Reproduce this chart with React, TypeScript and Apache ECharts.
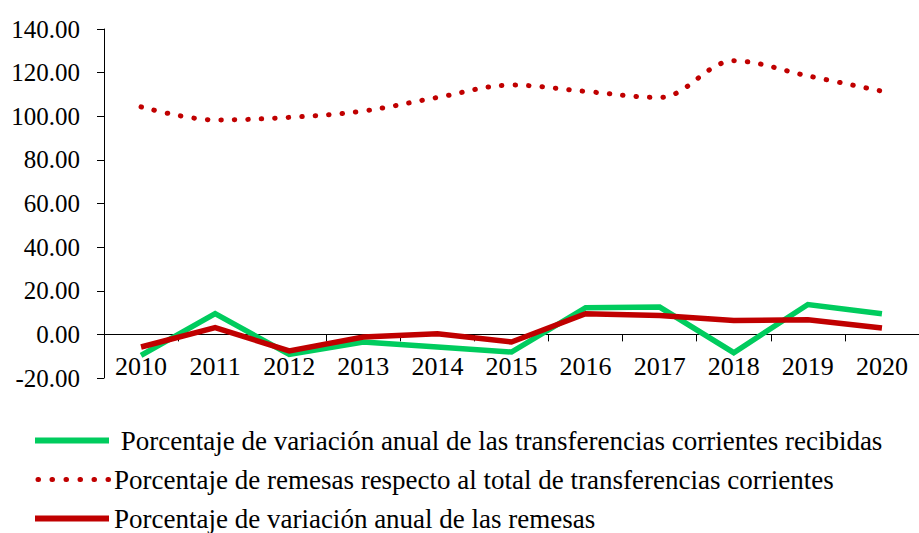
import React, { useEffect, useRef } from "react";
import * as echarts from "echarts";

const years = ["2010", "2011", "2012", "2013", "2014", "2015", "2016", "2017", "2018", "2019", "2020"];
const seriesNames = [
  "Porcentaje de variación anual de las transferencias corrientes recibidas",
  "Porcentaje de remesas respecto al total de transferencias corrientes",
  "Porcentaje de variación anual de las remesas",
];
const transferenciasVar = [-9.6, 9.5, -9.2, -3.5, -5.8, -8.1, 12.2, 12.5, -8.4, 13.7, 9.5];
const remesasPct = [104.3, 98.3, 99.5, 102.4, 108.6, 114.3, 111.4, 108.6, 125.4, 118.5, 111.5];
const remesasVar = [-5.8, 3.1, -7.6, -1.2, 0.3, -3.5, 9.5, 8.7, 6.4, 6.7, 2.9];
const yMin = -20;
const yMax = 140;
const yStep = 20;

const FONT = "Liberation Serif";
const GREEN = "#00CC5E";
const RED = "#C00000";

export default function App() {
  const ref = useRef<HTMLDivElement>(null);
  useEffect(() => {
    if (!ref.current) return;
    const chart = echarts.init(ref.current, undefined, { renderer: "svg" });
    const solid = { width: 6, type: "solid", cap: "butt" };
    const dotted = { width: 5, type: [0.5, 13.5], cap: "round", dashOffset: -3 };
    chart.setOption({
      animation: false,
      textStyle: { fontFamily: FONT, color: "#000" },
      grid: { left: 104, top: 29, width: 820, height: 349, containLabel: false },
      legend: {
        orient: "vertical",
        left: 32,
        top: 427,
        height: 120,
        padding: 0,
        itemWidth: 74,
        itemHeight: 14,
        itemGap: 12,
        itemStyle: { opacity: 0 },
        textStyle: { fontFamily: FONT, fontSize: 27, color: "#000" },
        formatter: (name: string) => (name === seriesNames[0] ? " " + name : name),
        data: [
          { name: seriesNames[0], lineStyle: { ...solid, color: GREEN } },
          { name: seriesNames[1], lineStyle: { ...dotted, color: RED } },
          { name: seriesNames[2], lineStyle: { ...solid, color: RED } },
        ],
      },
      xAxis: {
        type: "category",
        data: years,
        boundaryGap: true,
        axisLine: { onZero: true, lineStyle: { color: "#000", width: 1 } },
        axisTick: { show: true, inside: false, length: 7, lineStyle: { color: "#000" } },
        axisLabel: { fontFamily: FONT, fontSize: 26, color: "#000", margin: -25, interval: 0 },
        splitLine: { show: false },
      },
      yAxis: {
        type: "value",
        min: yMin,
        max: yMax,
        interval: yStep,
        axisLine: { show: true, lineStyle: { color: "#000", width: 1 } },
        axisTick: { show: true, inside: false, length: 7, lineStyle: { color: "#000" } },
        axisLabel: {
          fontFamily: FONT,
          fontSize: 25,
          color: "#000",
          margin: 24,
          formatter: (v: number) => v.toFixed(2),
        },
        splitLine: { show: false },
      },
      series: [
        {
          name: seriesNames[0],
          type: "line",
          data: transferenciasVar,
          symbol: "none",
          lineStyle: { color: GREEN, width: 5.5, cap: "butt", join: "miter" },
          itemStyle: { color: GREEN },
        },
        {
          name: seriesNames[1],
          type: "line",
          data: remesasPct,
          symbol: "none",
          smooth: 0.35,
          lineStyle: { color: RED, width: 5, type: [0.5, 13], cap: "round" },
          itemStyle: { color: RED },
        },
        {
          name: seriesNames[2],
          type: "line",
          data: remesasVar,
          symbol: "none",
          lineStyle: { color: RED, width: 5.5, cap: "butt", join: "miter" },
          itemStyle: { color: RED },
        },
      ],
    });
    return () => chart.dispose();
  }, []);
  return <div ref={ref} style={{ width: 919, height: 533, position: "absolute", left: 0, top: 0 }} />;
}
